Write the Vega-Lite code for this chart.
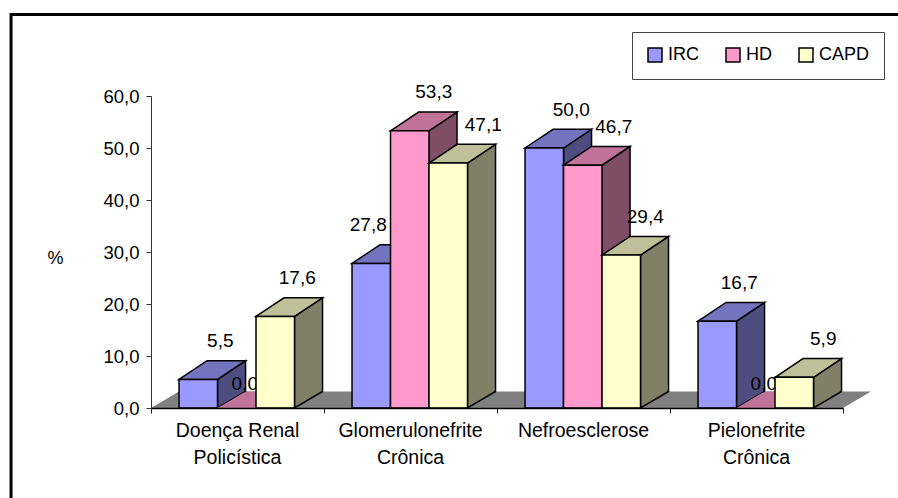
{
  "$schema": "https://vega.github.io/schema/vega-lite/v6.json",
  "width": 692,
  "height": 312,
  "autosize": {"type": "none"},
  "padding": {"left": 151, "top": 96, "right": 55, "bottom": 90},
  "background": "white",
  "config": {"view": {"stroke": null}, "font": "Liberation Sans"},
  "data": {
    "values": [
      {"category": "Doença Renal\nPolicística", "series": "IRC", "value": 5.5},
      {"category": "Doença Renal\nPolicística", "series": "HD", "value": 0.0},
      {"category": "Doença Renal\nPolicística", "series": "CAPD", "value": 17.6},
      {"category": "Glomerulonefrite\nCrônica", "series": "IRC", "value": 27.8},
      {"category": "Glomerulonefrite\nCrônica", "series": "HD", "value": 53.3},
      {"category": "Glomerulonefrite\nCrônica", "series": "CAPD", "value": 47.1},
      {"category": "Nefroesclerose", "series": "IRC", "value": 50.0},
      {"category": "Nefroesclerose", "series": "HD", "value": 46.7},
      {"category": "Nefroesclerose", "series": "CAPD", "value": 29.4},
      {"category": "Pielonefrite\nCrônica", "series": "IRC", "value": 16.7},
      {"category": "Pielonefrite\nCrônica", "series": "HD", "value": 0.0},
      {"category": "Pielonefrite\nCrônica", "series": "CAPD", "value": 5.9}
    ]
  },
  "transform": [
    {"calculate": "indexof(['Doença Renal\\nPolicística','Glomerulonefrite\\nCrônica','Nefroesclerose','Pielonefrite\\nCrônica'], datum.category) + 0.162 + indexof(['IRC','HD','CAPD'], datum.series) * 0.2225", "as": "x0"},
    {"calculate": "datum.value > 0 ? 3.6 : 3.17", "as": "rise"},
    {"calculate": "['side','top','front']", "as": "face"},
    {"flatten": ["face"]},
    {"filter": "datum.value > 0 || datum.face === 'top'"},
    {"calculate": "datum.face === 'top' ? [0,1,2,3] : [0,1]", "as": "pt"},
    {"flatten": ["pt"]},
    {"calculate": "datum.face === 'side' ? datum.x0 + 0.2225 + datum.pt * 0.162 : datum.face === 'front' ? datum.x0 + datum.pt * 0.2225 : datum.x0 + [0, 0.162, 0.2225, 0.3845][datum.pt]", "as": "px"},
    {"calculate": "datum.face === 'side' ? datum.pt * 3.17 : datum.face === 'front' ? 0 : datum.value + (datum.pt === 3 ? datum.rise : 0)", "as": "lo"},
    {"calculate": "datum.face === 'side' ? datum.value + datum.pt * datum.rise : datum.face === 'front' ? datum.value : datum.value + (datum.pt > 0 ? datum.rise : 0)", "as": "hi"},
    {"calculate": "datum.series + ' ' + datum.face", "as": "shade"},
    {"calculate": "datum.category + datum.series + datum.face", "as": "faceId"},
    {"calculate": "datum.x0 + 0.11125 + ({'5.5':22,'0':8,'17.6':22,'27.8':-3,'53.3':24,'47.1':35,'50':27,'46.7':31,'29.4':24,'16.7':22,'5.9':29})['' + datum.value] / 173", "as": "labelX"},
    {"calculate": "datum.value > 0 ? datum.value + 7.4 : 4.6", "as": "labelY"},
    {"calculate": "replace(format(datum.value, '.1f'), '.', ',')", "as": "labelText"}
  ],
  "encoding": {
    "x": {
      "field": "px",
      "type": "quantitative",
      "title": null,
      "scale": {"domain": [0, 4], "nice": false, "zero": false},
      "axis": {
        "values": [0, 1, 2, 3, 4],
        "labels": false,
        "grid": false,
        "tickSize": 5,
        "tickColor": "#222222",
        "domainColor": "#000000",
        "domainWidth": 1.5,
        "zindex": 1
      }
    },
    "y": {
      "field": "hi",
      "type": "quantitative",
      "title": "%",
      "stack": null,
      "scale": {"domain": [0, 60], "nice": false, "zero": false},
      "axis": {
        "values": [0, 10, 20, 30, 40, 50, 60],
        "labelExpr": "replace(format(datum.value, '.1f'), '.', ',')",
        "grid": false,
        "tickSize": 5,
        "tickColor": "#333333",
        "domainColor": "#333333",
        "labelFont": "Liberation Sans",
        "labelFontSize": 18.5,
        "labelColor": "#000000",
        "labelPadding": 7,
        "titleFont": "Liberation Sans",
        "titleFontSize": 18,
        "titleFontWeight": "normal",
        "titleAngle": 0,
        "titleX": -96,
        "titleY": 171,
        "zindex": 1
      }
    }
  },
  "layer": [
    {
      "data": {"values": [{"left": -0.809, "right": 4.5, "top": 75.67, "bottom": -30}]},
      "transform": [],
      "mark": {"type": "rect", "fill": null, "stroke": "#000000", "strokeWidth": 3},
      "encoding": {
        "x": {"field": "left", "type": "quantitative"},
        "x2": {"field": "right"},
        "y": {"field": "top", "type": "quantitative"},
        "y2": {"field": "bottom"}
      }
    },
    {
      "data": {
        "values": [
          {"px": 0, "lo": 0, "hi": 0},
          {"px": 0.162, "lo": 0, "hi": 3.17},
          {"px": 4, "lo": 0, "hi": 3.17},
          {"px": 4.162, "lo": 3.17, "hi": 3.17}
        ]
      },
      "mark": {"type": "area", "fill": "#808080"},
      "encoding": {"y2": {"field": "lo"}}
    },
    {
      "transform": [{"filter": "datum.series !== 'CAPD'"}],
      "mark": {"type": "area", "stroke": "#000000", "strokeJoin": "miter", "interpolate": "linear"},
      "encoding": {
        "y2": {"field": "lo"},
        "detail": {"field": "faceId"},
        "strokeWidth": {"condition": {"test": "datum.value > 0", "value": 1.5}, "value": 0},
        "fill": {
          "field": "shade",
          "type": "nominal",
          "sort": null,
          "scale": {
            "domain": ["IRC front", "IRC top", "IRC side", "HD front", "HD top", "HD side", "CAPD front", "CAPD top", "CAPD side"],
            "range": ["#9999FF", "#7373BF", "#4D4D80", "#FF99CC", "#BF7399", "#804D66", "#FFFFCC", "#BFBF99", "#808066"]
          },
          "legend": {
            "title": null,
            "values": ["IRC front", "HD front", "CAPD front"],
            "labelExpr": "split(datum.label, ' ')[0]",
            "orient": "none",
            "legendX": 481,
            "legendY": -64,
            "direction": "horizontal",
            "columns": 3,
            "columnPadding": 24,
            "padding": 14,
            "strokeColor": "#444444",
            "fillColor": "#FFFFFF",
            "symbolType": "square",
            "symbolSize": 196,
            "symbolStrokeColor": "#000000",
            "symbolStrokeWidth": 1.5,
            "labelFont": "Liberation Sans",
            "labelFontSize": 18,
            "labelColor": "#000000",
            "labelOffset": 4
          }
        }
      }
    },
    {
      "transform": [{"filter": "datum.face === 'top' && datum.pt === 0 && datum.value === 0"}],
      "mark": {"type": "text", "align": "center", "baseline": "middle", "font": "Liberation Sans", "fontSize": 19, "color": "#000000"},
      "encoding": {
        "x": {"field": "labelX", "type": "quantitative"},
        "y": {"field": "labelY", "type": "quantitative"},
        "text": {"field": "labelText"}
      }
    },
    {
      "transform": [{"filter": "datum.series === 'CAPD'"}],
      "mark": {"type": "area", "stroke": "#000000", "strokeWidth": 1.5, "strokeJoin": "miter", "interpolate": "linear"},
      "encoding": {
        "y2": {"field": "lo"},
        "detail": {"field": "faceId"},
        "fill": {"field": "shade", "type": "nominal", "sort": null}
      }
    },
    {
      "transform": [{"filter": "datum.face === 'top' && datum.pt === 0 && datum.value > 0"}],
      "mark": {"type": "text", "align": "center", "baseline": "middle", "font": "Liberation Sans", "fontSize": 19, "color": "#000000"},
      "encoding": {
        "x": {"field": "labelX", "type": "quantitative"},
        "y": {"field": "labelY", "type": "quantitative"},
        "text": {"field": "labelText"}
      }
    },
    {
      "transform": [
        {"filter": "datum.face === 'top' && datum.pt === 0 && datum.series === 'HD'"},
        {"calculate": "indexof(['Doença Renal\\nPolicística','Glomerulonefrite\\nCrônica','Nefroesclerose','Pielonefrite\\nCrônica'], datum.category) + 0.5", "as": "categoryX"},
        {"calculate": "-2.6", "as": "categoryY"}
      ],
      "mark": {"type": "text", "align": "center", "baseline": "top", "lineBreak": "\n", "lineHeight": 27, "font": "Liberation Sans", "fontSize": 19.5, "color": "#000000"},
      "encoding": {
        "x": {"field": "categoryX", "type": "quantitative"},
        "y": {"field": "categoryY", "type": "quantitative"},
        "text": {"field": "category"}
      }
    }
  ]
}
